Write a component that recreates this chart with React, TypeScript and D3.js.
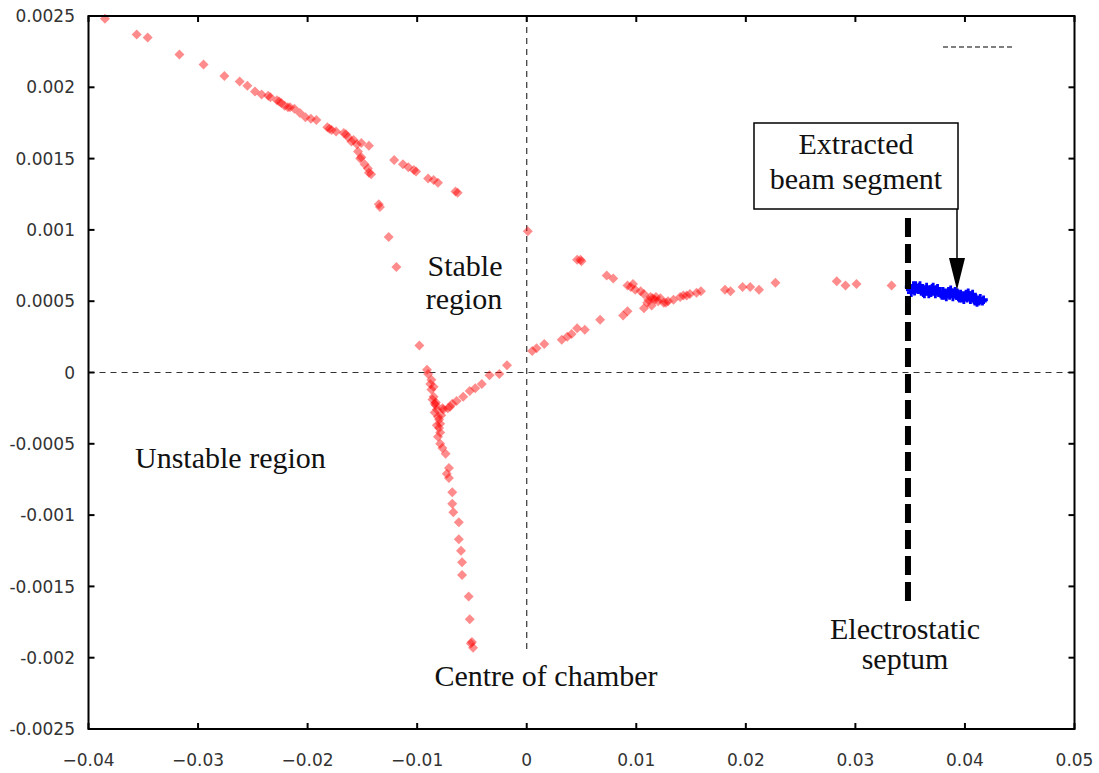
import React from "react";
import * as d3 from "d3";

const width = 1099;
const height = 773;

// tick values and their labels, as printed on the original
const xTicks = [-0.04, -0.03, -0.02, -0.01, 0, 0.01, 0.02, 0.03, 0.04, 0.05];
const xTickLabels = ["\u22120.04", "\u22120.03", "\u22120.02", "\u22120.01", "0", "0.01", "0.02", "0.03", "0.04", "0.05"];
const yTicks = [0.0025, 0.002, 0.0015, 0.001, 0.0005, 0, -0.0005, -0.001, -0.0015, -0.002, -0.0025];
const yTickLabels = ["0.0025", "0.002", "0.0015", "0.001", "0.0005", "0", "-0.0005", "-0.001", "-0.0015", "-0.002", "-0.0025"];

// red particles (x, x')
const beamX = [
  -0.0385, -0.0356, -0.0346, -0.0317, -0.0295, -0.0276, -0.0262, -0.0255, -0.0248, -0.0242,
  -0.0236, -0.0234, -0.0228, -0.0224, -0.0221, -0.0216, -0.0212, -0.0207, -0.0202, -0.0197,
  -0.0192, -0.0182, -0.018, -0.0178, -0.0167, -0.0165, -0.0163, -0.0158, -0.0155, -0.0151,
  -0.0144, -0.0154, -0.0151, -0.0148, -0.0145, -0.0142, -0.0144, -0.0135, -0.0134, -0.0126,
  -0.0119, -0.0098, -0.0121, -0.0113, -0.0108, -0.0103, -0.0101, -0.009, -0.0085, -0.0081,
  -0.0065, -0.0063, 0.0001, -0.0091, -0.009, -0.0088, -0.0087, -0.0085, -0.0084, -0.0082,
  -0.0081, -0.0079, -0.008, -0.0081, -0.0079, -0.0077, -0.0074, -0.0086, -0.0083, -0.0077,
  -0.0084, -0.0078, -0.0082, -0.0076, -0.007, -0.0064, -0.0058, -0.0052, -0.0047, -0.0041,
  -0.0034, -0.0025, -0.0018, -0.0071, -0.0073, -0.0071, -0.0068, -0.0068, -0.0067, -0.0062,
  -0.0062, -0.006, -0.0059, -0.0059, -0.0053, -0.0052, -0.005, -0.0049, -0.0051, 0.0005,
  0.0009, 0.0016, 0.0032, 0.0037, 0.0041, 0.0046, 0.0053, 0.0067, 0.0088, 0.0092,
  0.0107, 0.0114, 0.0046, 0.0049, 0.005, 0.0073, 0.0079, 0.0092, 0.0095, 0.0099,
  0.0104, 0.0107, 0.0113, 0.0117, 0.012, 0.0125, 0.0129, 0.0134, 0.0115, 0.0111,
  0.0122, 0.014, 0.0146, 0.0149, 0.0155, 0.0159, 0.0181, 0.0186, 0.0197, 0.0204,
  0.0212, 0.0227, 0.0283, 0.0291, 0.0301, 0.0333,
  -0.0087, -0.0083, -0.0080, -0.0085, -0.0079, -0.0072, -0.0068, -0.0226, -0.0218, -0.0174,
  -0.0160, -0.0152, 0.0110, 0.0118, 0.0127, 0.0143, 0.0097,
];
const beamXp = [
  0.00248, 0.00237, 0.00235, 0.00223, 0.00216, 0.00208, 0.00204, 0.00201, 0.00197, 0.00195,
  0.00194, 0.00193, 0.00191, 0.00189, 0.00187, 0.00186, 0.00185, 0.00182, 0.00179, 0.00178,
  0.00177, 0.00172, 0.00171, 0.0017, 0.00168, 0.00167, 0.00165, 0.00163, 0.0016, 0.00161,
  0.00159, 0.00155, 0.00151, 0.00146, 0.00143, 0.00139, 0.0014, 0.00118, 0.00116, 0.00095,
  0.00074, 0.00019, 0.00149, 0.00146, 0.00144, 0.00142, 0.00141, 0.00136, 0.00135, 0.00133,
  0.00127, 0.00126, 0.00099, 0.00002, -0.00001, -0.00008, -0.00012, -0.00017, -0.00022, -0.00026,
  -0.00031, -0.00036, -0.00039, -0.00045, -0.0005, -0.00053, -0.00057, -0.00019, -0.00023, -0.00025,
  -0.00028, -0.0003, -0.00037, -0.00026, -0.00024, -0.0002, -0.00017, -0.00013, -0.00011, -0.00008,
  -0.00002, -0.00001, 0.00005, -0.00067, -0.00071, -0.00074, -0.00084, -0.00092, -0.00098, -0.00105,
  -0.00117, -0.00125, -0.00133, -0.00142, -0.00157, -0.00173, -0.00189, -0.00193, -0.0019, 0.00015,
  0.00017, 0.0002, 0.00023, 0.00025, 0.00027, 0.00031, 0.0003, 0.00037, 0.0004, 0.00043,
  0.00045, 0.00047, 0.00079, 0.00079, 0.00078, 0.00068, 0.00066, 0.00061, 0.0006, 0.00058,
  0.00057, 0.00055, 0.00053, 0.00051, 0.0005, 0.00049, 0.0005, 0.00051, 0.00052, 0.00051,
  0.00052, 0.00053, 0.00054, 0.00055, 0.00056, 0.00057, 0.00058, 0.00057, 0.0006, 0.0006,
  0.00058, 0.00063, 0.00064, 0.00061, 0.00062, 0.00061,
  -0.00005, -0.00021, -0.00033, -0.00010, -0.00042, -0.00025, -0.00022, 0.00190, 0.00186, 0.00169,
  0.00162, 0.00150, 0.00049, 0.00053, 0.00049, 0.00054, 0.00062,
];

// blue: extracted segment beyond the septum
const extractedX = [
  0.0349, 0.035, 0.0352, 0.0353, 0.0354, 0.0356, 0.0357, 0.0358, 0.036, 0.0361,
  0.0362, 0.0364, 0.0365, 0.0366, 0.0368, 0.0369, 0.037, 0.0372, 0.0373, 0.0374,
  0.0376, 0.0377, 0.0378, 0.038, 0.0381, 0.0382, 0.0384, 0.0385, 0.0386, 0.0388,
  0.0389, 0.039, 0.0392, 0.0393, 0.0394, 0.0396, 0.0397, 0.0398, 0.04, 0.0401,
  0.0402, 0.0404, 0.0405, 0.0406, 0.0408, 0.0409, 0.041, 0.0412, 0.0413, 0.0414,
  0.0416, 0.0417, 0.0351, 0.0359, 0.0367, 0.0375, 0.0383, 0.0391, 0.0399, 0.0407,
  0.0355, 0.0363, 0.0371, 0.0379, 0.0387, 0.0395, 0.0403, 0.0411,
];
const extractedXp = [
  0.0006, 0.00058, 0.00059, 0.00061, 0.00057, 0.00059, 0.00058, 0.0006, 0.00057, 0.00059,
  0.00056, 0.00058, 0.0006, 0.00057, 0.00058, 0.00056, 0.00059, 0.00057, 0.00055, 0.00058,
  0.00056, 0.00057, 0.00055, 0.00057, 0.00054, 0.00056, 0.00055, 0.00057, 0.00054, 0.00056,
  0.00053, 0.00055, 0.00054, 0.00056, 0.00053, 0.00055, 0.00052, 0.00054, 0.00053, 0.00055,
  0.00052, 0.00054, 0.00051, 0.00053, 0.00052, 0.0005, 0.00052, 0.00051, 0.0005, 0.00052,
  0.0005, 0.00051, 0.00056, 0.00061, 0.00055, 0.00059, 0.00053, 0.00057, 0.00051, 0.00055,
  0.00061, 0.00055, 0.00060, 0.00054, 0.00058, 0.00052, 0.00056, 0.00049,
];

const septumX = 0.0348;

const left = 88.5;
const right = 1074.5;
const top = 16;
const bottom = 729;

export default function App() {
  const x = d3.scaleLinear().domain([-0.04, 0.05]).range([left, right]);
  const y = d3.scaleLinear().domain([-0.0025, 0.0025]).range([bottom, top]);
  const diamond = "M0,-5L5,0L0,5L-5,0Z";
  const cross = d3.symbol().type(d3.symbolCross).size(40)() as string;
  const tickFont = { fontFamily: "DejaVu Sans", fontSize: 17, fill: "#333" };
  const serif = { fontFamily: "Liberation Serif", fontSize: 30, fill: "#111" };

  return (
    <svg
      width={width}
      height={height}
      style={{ position: "absolute", left: 0, top: 0, background: "#fff" }}
    >
      {/* zero axes */}
      <line x1={left} x2={right} y1={y(0)} y2={y(0)} stroke="#333" strokeWidth={1.2} strokeDasharray="6 5" />
      <line x1={x(0)} x2={x(0)} y1={top} y2={652} stroke="#333" strokeWidth={1.2} strokeDasharray="6 5" />

      {/* key sample */}
      <line x1={943} x2={1012} y1={47} y2={47} stroke="#555" strokeWidth={1.5} strokeDasharray="5 3" />

      {/* particles */}
      <g fill="#ff0000" fillOpacity={0.45}>
        {beamX.map((v, i) => (
          <path key={i} d={diamond} transform={`translate(${x(v)},${y(beamXp[i])})`} />
        ))}
      </g>
      <g fill="#0000ff">
        {extractedX.map((v, i) => (
          <path key={i} d={cross} transform={`translate(${x(v)},${y(extractedXp[i])})`} />
        ))}
      </g>

      {/* electrostatic septum */}
      <line x1={x(septumX)} x2={x(septumX)} y1={218} y2={607} stroke="#000" strokeWidth={6} strokeDasharray="19 7" />

      {/* frame and ticks */}
      <rect x={left} y={top} width={right - left} height={bottom - top} fill="none" stroke="#000" strokeWidth={2} />
      {xTicks.map((t, i) => (
        <g key={"x" + i}>
          <line x1={x(t)} x2={x(t)} y1={bottom} y2={bottom - 6} stroke="#000" strokeWidth={2} />
          <line x1={x(t)} x2={x(t)} y1={top} y2={top + 6} stroke="#000" strokeWidth={2} />
          <text x={x(t)} y={766} textAnchor="middle" {...tickFont}>{xTickLabels[i]}</text>
        </g>
      ))}
      {yTicks.map((t, i) => (
        <g key={"y" + i}>
          <line x1={left} x2={left + 6} y1={y(t)} y2={y(t)} stroke="#000" strokeWidth={2} />
          <line x1={right} x2={right - 6} y1={y(t)} y2={y(t)} stroke="#000" strokeWidth={2} />
          <text x={75} y={y(t)} dy="0.36em" textAnchor="end" {...tickFont}>{yTickLabels[i]}</text>
        </g>
      ))}

      {/* annotations */}
      <text x={465} y={276} textAnchor="middle" {...serif}>Stable</text>
      <text x={464} y={309} textAnchor="middle" {...serif}>region</text>
      <text x={135} y={468} {...serif}>Unstable region</text>
      <text x={546} y={686} textAnchor="middle" {...serif}>Centre of chamber</text>
      <text x={905} y={639} textAnchor="middle" {...serif}>Electrostatic</text>
      <text x={905} y={669} textAnchor="middle" {...serif}>septum</text>

      <rect x={754} y={123} width={204} height={86} fill="#fff" stroke="#000" strokeWidth={1.5} />
      <text x={856} y={154} textAnchor="middle" {...serif}>Extracted</text>
      <text x={856} y={189} textAnchor="middle" {...serif}>beam segment</text>
      <line x1={957} x2={957} y1={209} y2={260} stroke="#000" strokeWidth={1.5} />
      <polygon points="949,258 965,258 957,290" fill="#000" />
    </svg>
  );
}
